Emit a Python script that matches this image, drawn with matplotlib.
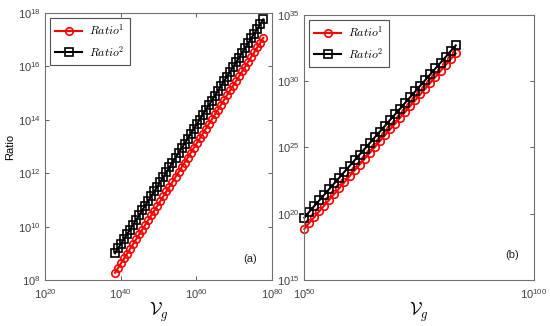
import matplotlib.pyplot as plt
import numpy as np

plt.rcParams['font.family'] = ['Liberation Sans', 'DejaVu Sans']
plt.rcParams['mathtext.fontset'] = 'cm'

# panel (a): log10 of V_g and of the two ratios
vg_a = [38.5, 39.3, 40.1, 40.9, 41.7, 42.5, 43.3, 44.1, 44.9, 45.7,
        46.5, 47.3, 48.1, 48.9, 49.7, 50.5, 51.3, 52.1, 52.9, 53.7,
        54.5, 55.3, 56.1, 56.9, 57.7, 58.5, 59.3, 60.1, 60.9, 61.7,
        62.5, 63.3, 64.1, 64.9, 65.7, 66.5, 67.3, 68.1, 68.9, 69.7,
        70.5, 71.3, 72.1, 72.9, 73.7, 74.5, 75.3, 76.1, 76.9, 77.7]
ratio1_a = [8.27, 8.45, 8.63, 8.81, 8.99, 9.17, 9.35, 9.53, 9.71, 9.89,
            10.07, 10.25, 10.43, 10.60, 10.78, 10.96, 11.14, 11.32, 11.50, 11.68,
            11.86, 12.04, 12.22, 12.40, 12.58, 12.76, 12.94, 13.12, 13.30, 13.48,
            13.66, 13.84, 14.02, 14.20, 14.38, 14.56, 14.74, 14.92, 15.10, 15.27,
            15.45, 15.63, 15.81, 15.99, 16.17, 16.35, 16.53, 16.71, 16.89, 17.07]
ratio2_a = [9.00, 9.18, 9.36, 9.54, 9.72, 9.89, 10.07, 10.25, 10.43, 10.61,
            10.79, 10.97, 11.15, 11.32, 11.50, 11.68, 11.86, 12.04, 12.22, 12.40,
            12.58, 12.75, 12.93, 13.11, 13.29, 13.47, 13.65, 13.83, 14.01, 14.19,
            14.36, 14.54, 14.72, 14.90, 15.08, 15.26, 15.44, 15.62, 15.79, 15.97,
            16.15, 16.33, 16.51, 16.69, 16.87, 17.05, 17.22, 17.40, 17.58, 17.76]

# panel (b)
vg_b = [50.1, 51.1, 52.2, 53.3, 54.4, 55.5, 56.6, 57.7, 58.8, 59.9,
        61.0, 62.1, 63.2, 64.3, 65.4, 66.5, 67.6, 68.7, 69.8, 70.9,
        72.0, 73.1, 74.2, 75.3, 76.4, 77.5, 78.6, 79.7, 80.8, 81.9, 83.0]
ratio1_b = [18.85, 19.29, 19.73, 20.18, 20.62, 21.06, 21.50, 21.94, 22.38, 22.83,
            23.27, 23.71, 24.15, 24.59, 25.03, 25.48, 25.92, 26.36, 26.80, 27.24,
            27.68, 28.13, 28.57, 29.01, 29.45, 29.89, 30.33, 30.78, 31.22, 31.66, 32.10]
ratio2_b = [19.70, 20.13, 20.57, 21.00, 21.43, 21.87, 22.30, 22.73, 23.17, 23.60,
            24.03, 24.47, 24.90, 25.33, 25.77, 26.20, 26.63, 27.07, 27.50, 27.93,
            28.37, 28.80, 29.23, 29.67, 30.10, 30.53, 30.97, 31.40, 31.83, 32.27, 32.70]

panels = [
    dict(pos=[0.0818, 0.1411, 0.4127, 0.819], x=vg_a, r1=ratio1_a, r2=ratio2_a,
         xlim=(20, 80), xt=[20, 40, 60, 80], ylim=(8, 18), yt=[8, 10, 12, 14, 16, 18],
         tag='(a)', tagpos=(0.905, 0.08), ylabel='Ratio'),
    dict(pos=[0.5527, 0.1411, 0.418, 0.8129], x=vg_b, r1=ratio1_b, r2=ratio2_b,
         xlim=(50, 100), xt=[50, 100], ylim=(15, 35), yt=[15, 20, 25, 30, 35],
         tag='(b)', tagpos=(0.905, 0.095), ylabel=None),
]

fig = plt.figure(figsize=(5.5, 3.26), dpi=100)
for p in panels:
    ax = fig.add_axes(p['pos'])
    ax.set_xscale('log')
    ax.set_yscale('log')
    x = 10.0 ** np.array(p['x'])
    ax.plot(x, 10.0 ** np.array(p['r1']), '-o', color='red', lw=1.5, ms=5.4,
            mfc='none', mew=1.2, label='$Ratio^1$', clip_on=False)
    ax.plot(x, 10.0 ** np.array(p['r2']), '-s', color='black', lw=1.5, ms=5.4,
            mfc='none', mew=1.2, label='$Ratio^2$', clip_on=False)
    ax.set_xlim(10.0 ** p['xlim'][0], 10.0 ** p['xlim'][1])
    ax.set_ylim(10.0 ** p['ylim'][0], 10.0 ** p['ylim'][1])
    ax.set_xticks([10.0 ** v for v in p['xt']])
    ax.set_xticklabels(['$\\mathregular{10^{%d}}$' % v for v in p['xt']])
    ax.set_yticks([10.0 ** v for v in p['yt']])
    ax.set_yticklabels(['$\\mathregular{10^{%d}}$' % v for v in p['yt']])
    ax.minorticks_off()
    ax.tick_params(direction='in', top=True, right=True, labelsize=8,
                   colors='#404040', length=3, width=0.6)
    ax.tick_params(axis='x', pad=5)
    ax.tick_params(axis='y', pad=3)
    for s in ax.spines.values():
        s.set_color('#707070')
        s.set_linewidth(0.8)
    ax.set_xlabel('$\\mathcal{V}_g$', fontsize=13, labelpad=0)
    if p['ylabel']:
        ax.set_ylabel(p['ylabel'], fontsize=8, labelpad=2)
    ax.text(p['tagpos'][0], p['tagpos'][1], p['tag'], transform=ax.transAxes,
            fontsize=8, ha='center', va='center', color='#202020')
    leg = ax.legend(loc='upper left', fontsize=8.5, fancybox=False, framealpha=1,
                    borderaxespad=0.4, handlelength=2.3, labelspacing=0.55,
                    borderpad=0.45, handletextpad=0.6)
    leg.get_frame().set_edgecolor('#505050')
    leg.get_frame().set_linewidth(0.8)

fig.savefig('out.png', dpi=100)
